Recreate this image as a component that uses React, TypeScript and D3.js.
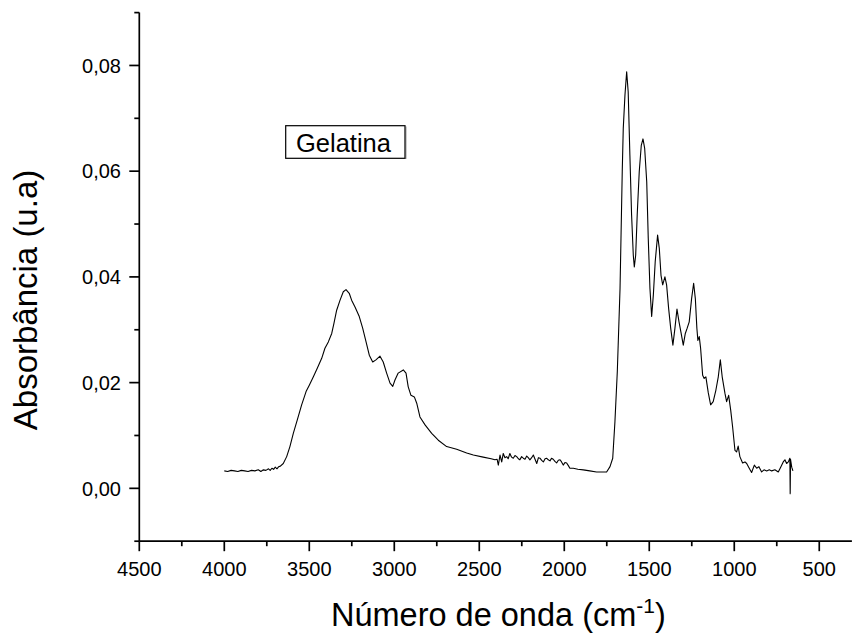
import React from "react";
import * as d3 from "d3";

const wavenumber: number[] = [
  4000, 3980, 3960, 3940, 3920, 3900, 3880, 3860, 3840, 3820, 3800, 3785, 3770, 3755, 3740, 3730, 3720, 3710, 3700, 3690, 3680, 3670,
  3653, 3633, 3614, 3594, 3571, 3545, 3519, 3500, 3476, 3453, 3427, 3408, 3388, 3368, 3355, 3339, 3319, 3300, 3284, 3265, 3251, 3231,
  3206, 3186, 3166, 3147, 3127, 3108, 3084, 3065, 3045, 3025, 3009, 2996, 2977, 2947, 2931, 2918, 2902, 2882, 2868, 2849, 2819, 2780,
  2741, 2692, 2633, 2574, 2535, 2477, 2430, 2408, 2395, 2388, 2378, 2368, 2359, 2349, 2339, 2330, 2320, 2310, 2300, 2290, 2280, 2270,
  2261, 2251, 2241, 2231, 2221, 2212, 2202, 2192, 2182, 2172, 2162, 2152, 2143, 2133, 2123, 2113, 2104, 2094, 2084, 2075, 2065, 2055,
  2045, 2035, 2025, 2016, 2006, 1996, 1986, 1976, 1967, 1947, 1920, 1888, 1850, 1810, 1780, 1751, 1731, 1715, 1702, 1688, 1672, 1659,
  1653, 1643, 1633, 1624, 1614, 1604, 1594, 1588, 1580, 1571, 1559, 1547, 1537, 1527, 1515, 1506, 1496, 1486, 1476, 1465, 1451, 1441,
  1431, 1421, 1408, 1398, 1386, 1374, 1361, 1349, 1337, 1325, 1314, 1300, 1288, 1277, 1265, 1251, 1239, 1229, 1220, 1214, 1206, 1198,
  1186, 1177, 1167, 1153, 1139, 1124, 1108, 1094, 1082, 1071, 1055, 1045, 1033, 1021, 1010, 996, 986, 977, 967, 951, 937, 927,
  912, 898, 882, 868, 855, 839, 825, 809, 794, 780, 761, 741, 727, 712, 702, 692, 682, 673, 671, 669, 662, 655,
];

const absorbance: number[] = [
  0.0033, 0.0032, 0.0034, 0.0033, 0.0032, 0.0034, 0.0033, 0.0032, 0.0034, 0.0033, 0.0035, 0.0032, 0.0035, 0.0034, 0.0037, 0.0034, 0.0038, 0.0036, 0.004, 0.0037, 0.0041, 0.0042,
  0.0047, 0.006, 0.0079, 0.0104, 0.0129, 0.0158, 0.0183, 0.0195, 0.0211, 0.0227, 0.0246, 0.0265, 0.0277, 0.0293, 0.0312, 0.0337, 0.0356, 0.0372, 0.0376, 0.0369, 0.0356, 0.0343,
  0.0325, 0.0303, 0.0277, 0.0252, 0.0239, 0.0243, 0.025, 0.0239, 0.0218, 0.0199, 0.0193, 0.0205, 0.0218, 0.0224, 0.0218, 0.0192, 0.0176, 0.0173, 0.0161, 0.0135, 0.012, 0.0104,
  0.0091, 0.0079, 0.0074, 0.0067, 0.0063, 0.0059, 0.0056, 0.0054, 0.0055, 0.0044, 0.0063, 0.005, 0.0066, 0.0058, 0.006, 0.0056, 0.0066, 0.0059, 0.0057, 0.0062, 0.006, 0.0056,
  0.0054, 0.006, 0.0057, 0.0055, 0.0061, 0.0058, 0.0054, 0.0058, 0.0063, 0.0055, 0.0047, 0.0058, 0.0057, 0.0053, 0.005, 0.0056, 0.0057, 0.0054, 0.0052, 0.0057, 0.0055, 0.0051,
  0.0048, 0.0053, 0.0054, 0.005, 0.0044, 0.0049, 0.0048, 0.0043, 0.0038, 0.0038, 0.0036, 0.0035, 0.0033, 0.0031, 0.0031, 0.0031, 0.0041, 0.0057, 0.0126, 0.0221, 0.0378, 0.0599,
  0.0681, 0.0744, 0.0788, 0.075, 0.063, 0.0517, 0.0441, 0.0419, 0.0441, 0.0517, 0.0599, 0.0649, 0.0661, 0.0643, 0.058, 0.0473, 0.0378, 0.0325, 0.0366, 0.0429, 0.0479, 0.0454,
  0.0403, 0.0385, 0.04, 0.0385, 0.034, 0.0303, 0.0271, 0.0303, 0.0339, 0.0315, 0.0296, 0.0271, 0.0293, 0.0303, 0.0315, 0.0359, 0.0388, 0.0359, 0.0303, 0.028, 0.0287, 0.0265,
  0.0214, 0.0208, 0.0211, 0.0181, 0.0158, 0.0164, 0.0186, 0.0211, 0.0243, 0.0211, 0.018, 0.0164, 0.0176, 0.0148, 0.0117, 0.0072, 0.0069, 0.008, 0.006, 0.0048, 0.005, 0.0047,
  0.0038, 0.003, 0.0044, 0.0038, 0.0041, 0.0031, 0.0035, 0.0033, 0.0035, 0.0033, 0.0035, 0.0031, 0.004, 0.005, 0.0054, 0.0047, 0.005, 0.0057, -0.001, 0.0055, 0.004, 0.0033,
];

const xMajorTicks: number[] = [4500, 4000, 3500, 3000, 2500, 2000, 1500, 1000, 500];
const xMinorTicks: number[] = [4250, 3750, 3250, 2750, 2250, 1750, 1250, 750];
const yMajorTicks: number[] = [0, 0.02, 0.04, 0.06, 0.08];
const yMajorLabels: string[] = ["0,00", "0,02", "0,04", "0,06", "0,08"];
const yMinorTicks: number[] = [-0.01, 0.01, 0.03, 0.05, 0.07, 0.09];
const legendLabel = "Gelatina";
const xTitle = "Número de onda (cm";
const xTitleSup = "-1";
const yTitle = "Absorbância (u.a)";

const FONT = "'Liberation Sans', Arial, Helvetica, sans-serif";

export default function App() {
  const W = 853;
  const H = 634;
  const x = d3.scaleLinear().domain([4500, 308]).range([139.3, 851.9]);
  const y = d3.scaleLinear().domain([-0.01, 0.09]).range([541.2, 12.6]);
  const pts: [number, number][] = wavenumber.map((w, i) => [w, absorbance[i]]);
  const line = d3
    .line<[number, number]>()
    .x((d) => x(d[0]))
    .y((d) => y(d[1]));
  const x0 = x(4500);
  const yb = y(-0.01);
  const axisW = 1.7;

  return (
    <svg
      width={W}
      height={H}
      style={{ position: "absolute", left: 0, top: 0, background: "#fff" }}
      fontFamily={FONT}
    >
      <rect x={0} y={0} width={W} height={H} fill="#fff" />
      {/* data */}
      <path d={line(pts) || ""} fill="none" stroke="#000" strokeWidth={1.1} strokeLinejoin="round" />
      {/* y axis */}
      <line x1={x0} x2={x0} y1={y(0.09)} y2={yb} stroke="#000" strokeWidth={axisW} />
      {yMajorTicks.map((t, i) => (
        <g key={"ym" + i}>
          <line x1={x0 - 10} x2={x0} y1={y(t)} y2={y(t)} stroke="#000" strokeWidth={axisW} />
          <text x={121} y={y(t)} dy="0.36em" textAnchor="end" fontSize={20}>
            {yMajorLabels[i]}
          </text>
        </g>
      ))}
      {yMinorTicks.map((t, i) => (
        <line key={"yn" + i} x1={x0 - 5} x2={x0} y1={y(t)} y2={y(t)} stroke="#000" strokeWidth={axisW} />
      ))}
      {/* x axis */}
      <line x1={x0} x2={x(308)} y1={yb} y2={yb} stroke="#000" strokeWidth={axisW} />
      {xMajorTicks.map((t, i) => (
        <g key={"xm" + i}>
          <line x1={x(t)} x2={x(t)} y1={yb} y2={yb + 10} stroke="#000" strokeWidth={axisW} />
          <text x={x(t)} y={576} textAnchor="middle" fontSize={20}>
            {t}
          </text>
        </g>
      ))}
      {xMinorTicks.map((t, i) => (
        <line key={"xn" + i} x1={x(t)} x2={x(t)} y1={yb} y2={yb + 5} stroke="#000" strokeWidth={axisW} />
      ))}
      {/* axis titles */}
      <text x={331} y={626} fontSize={32.5}>
        {xTitle}
        <tspan fontSize={21} dy={-13}>
          {xTitleSup}
        </tspan>
        <tspan fontSize={32.5} dy={13}>
          )
        </tspan>
      </text>
      <text transform={`translate(37,300) rotate(-90)`} textAnchor="middle" fontSize={33}>
        {yTitle}
      </text>
      {/* legend */}
      <rect x={285.7} y={125.7} width={119.3} height={32.6} fill="#fff" stroke="#000" strokeWidth={1.2} />
      <line x1={405.6} x2={405.6} y1={126.5} y2={158.9} stroke="#555" strokeWidth={1.4} />
      <text x={296} y={151.7} fontSize={25.5}>
        {legendLabel}
      </text>
    </svg>
  );
}
